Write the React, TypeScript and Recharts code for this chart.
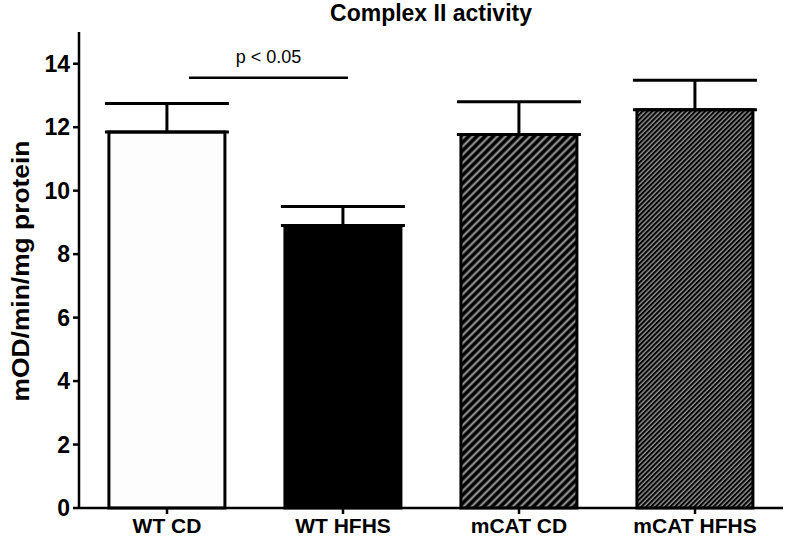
import React from 'react';
import { BarChart, Bar, XAxis, YAxis, ErrorBar, ReferenceLine, Cell } from 'recharts';

const groups = ['WT CD', 'WT HFHS', 'mCAT CD', 'mCAT HFHS'];
const means = [11.85, 8.9, 11.77, 12.55];
const sems = [0.9, 0.6, 1.03, 0.93];
const yTicks = [0, 2, 4, 6, 8, 10, 12, 14];
const fills = ['#fdfdfd', '#000000', 'url(#hatchWide)', 'url(#hatchFine)'];
const sigY = 13.56;

const data = groups.map((g, i) => ({ group: g, mean: means[i], err: [0, sems[i]] }));

const FONT = '"Liberation Sans", Arial, sans-serif';

const SigLine = (props: any) => {
  const { x1, y1, x2 } = props;
  // bracket starts a bit right of WT CD center and ends just past WT HFHS center
  const a = x1 + 22;
  const b = x2 + 5;
  return (
    <g>
      <line x1={a} y1={y1} x2={b} y2={y1} stroke="#000" strokeWidth={2.5} />
      <text x={(a + b) / 2} y={y1 - 15} textAnchor="middle" fontFamily={FONT} fontSize={18} fill="#000">
        p &lt; 0.05
      </text>
    </g>
  );
};

export default function App() {
  return (
    <div style={{ position: 'absolute', left: 0, top: 0, width: 792, height: 541, background: '#fff' }}>
      <BarChart
        width={792}
        height={541}
        data={data}
        margin={{ top: 32, right: 9, bottom: 3, left: 10 }}
        barCategoryGap="17%"
      >
        <defs>
          <pattern id="hatchWide" patternUnits="userSpaceOnUse" width={5.8} height={5.8} patternTransform="rotate(45)">
            <rect width={5.8} height={5.8} fill="#000" />
            <line x1={1.5} y1={0} x2={1.5} y2={5.8} stroke="#a0a0a0" strokeWidth={2} />
          </pattern>
          <pattern id="hatchFine" patternUnits="userSpaceOnUse" width={3.4} height={3.4} patternTransform="rotate(45)">
            <rect width={3.4} height={3.4} fill="#000" />
            <line x1={1} y1={0} x2={1} y2={3.4} stroke="#a0a0a0" strokeWidth={1.3} />
          </pattern>
        </defs>
        <text x={431} y={21} textAnchor="middle" fontFamily={FONT} fontWeight="bold" fontSize={23} fill="#000">
          Complex II activity
        </text>
        <text
          transform="translate(29 271) rotate(-90) scale(1.1,1)"
          textAnchor="middle"
          fontFamily={FONT}
          fontWeight="bold"
          fontSize={24}
          fill="#000"
        >
          mOD/min/mg protein
        </text>
        <XAxis
          dataKey="group"
          height={30}
          stroke="#000"
          strokeWidth={2.5}
          tickSize={6}
          tick={{ fill: '#000', fontFamily: FONT, fontWeight: 'bold', fontSize: 21, dy: 2 }}
          interval={0}
        />
        <YAxis
          domain={[0, 15]}
          ticks={yTicks}
          stroke="#000"
          strokeWidth={2.5}
          tickSize={6}
          width={69}
          tick={{ fill: '#000', fontFamily: FONT, fontWeight: 'bold', fontSize: 23, dx: -1 }}
        />
        <Bar dataKey="mean" stroke="#000" strokeWidth={3} isAnimationActive={false}>
          {data.map((d, i) => (
            <Cell key={d.group} fill={fills[i]} />
          ))}
          <ErrorBar dataKey="err" width={62} stroke="#000" strokeWidth={3} direction="y" />
        </Bar>
        <ReferenceLine
          segment={[{ x: 'WT CD', y: sigY }, { x: 'WT HFHS', y: sigY }]}
          shape={<SigLine />}
          ifOverflow="visible"
        />
      </BarChart>
    </div>
  );
}
